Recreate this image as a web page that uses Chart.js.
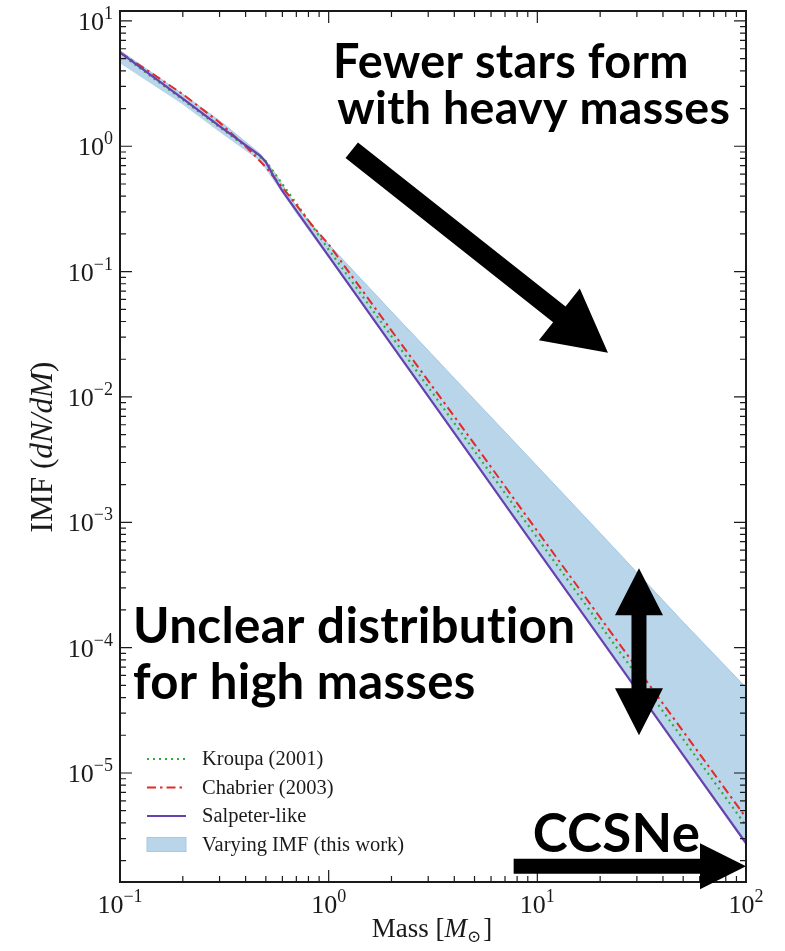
<!DOCTYPE html>
<html>
<head>
<meta charset="utf-8">
<script src="https://cdn.jsdelivr.net/npm/chart.js@4.4.1/dist/chart.umd.min.js"></script>
<style>
  html, body { margin: 0; padding: 0; background: #fff; }
  #wrap { width: 785px; height: 951px; }
</style>
</head>
<body>
<div id="wrap"><canvas id="imf"></canvas></div>
<script>
// IMF curves, mass in solar masses, dN/dM normalised
const kroupaMass = [0.1, 0.2, 0.3, 0.5, 0.7, 1, 2, 5, 10, 20, 50, 100];
const kroupaImf = [5.5, 2.35, 1.42, 0.76, 0.35, 0.15, 0.0305, 0.0037, 7.5e-4, 1.52e-4, 1.86e-5, 3.8e-6];

const chabrierMass = [0.1, 0.15, 0.2, 0.3, 0.4, 0.5, 0.6, 0.7, 0.85, 1, 2, 5, 10, 20, 50, 100];
const chabrierImf = [5.6, 3.6, 2.6, 1.55, 1.0, 0.68, 0.47, 0.34, 0.225, 0.165, 0.0338, 0.0042, 8.5e-4, 1.74e-4, 2.15e-5, 4.4e-6];

const salpeterMass = [0.1, 0.2, 0.3, 0.47, 0.5, 0.55, 0.6, 1, 2, 5, 10, 20, 50, 100];
const salpeterImf = [5.6, 2.4, 1.45, 0.84, 0.75, 0.56, 0.44, 0.133, 0.0262, 3.06e-3, 6.0e-4, 1.19e-4, 1.39e-5, 2.75e-6];

// spread of the varying IMF
const bandMass = [0.1, 0.2, 0.3, 0.47, 0.55, 0.7, 1, 2, 5, 10, 20, 50, 100];
const bandLow = [4.6, 2.15, 1.3, 0.76, 0.52, 0.29, 0.128, 0.0255, 3.0e-3, 5.9e-4, 1.17e-4, 1.37e-5, 2.72e-6];
const bandHigh = [5.8, 2.6, 1.6, 0.87, 0.62, 0.33, 0.165, 0.048, 0.0095, 2.8e-3, 8.2e-4, 1.6e-4, 4.8e-5];

const ticksX = [0.1, 1, 10, 100];
const ticksY = [1e-5, 1e-4, 1e-3, 1e-2, 1e-1, 1, 10];

const legendLabels = ['Kroupa (2001)', 'Chabrier (2003)', 'Salpeter-like', 'Varying IMF (this work)'];

const pts = (xs, ys) => xs.map((x, i) => ({ x: x, y: ys[i] }));

const GREEN = '#35a83a', RED = '#e22a2a', PURPLE = '#6741ad', BAND = '#b9d5ea', BAND_EDGE = '#a4c9e5';
const SERIF = '"Liberation Serif", "DejaVu Serif", serif';
const SANS = 'Lato, "Open Sans", sans-serif';

// annotation text (with its drawn width) and arrows, placed in data units (mass, IMF)
const notes = [
  { text: 'Fewer stars form', x: 1.05, y: 3.5, w: 353 },
  { text: 'with heavy masses', x: 1.10, y: 1.5, w: 390 },
  { text: 'Unclear distribution', x: 0.1155, y: 1.08e-4, w: 439 },
  { text: 'for high masses', x: 0.1155, y: 3.9e-5, w: 340 },
  { text: 'CCSNe', x: 9.5, y: 2.33e-6, w: 167 }
];
const arrows = [
  { from: [1.29, 0.93], to: [21.8, 0.0225], shaft: 20, head: 62, half: 33, both: false },
  { from: [30.7, 2.0e-5], to: [30.7, 4.3e-4], shaft: 15, head: 47, half: 24, both: true },
  { from: [7.7, 1.8e-6], to: [100, 1.8e-6], shaft: 15, head: 46, half: 23, both: false }
];

function supText(ctx, base, exp, x, y, size, align) {
  ctx.font = size + 'px ' + SERIF;
  const wb = ctx.measureText(base).width;
  ctx.font = Math.round(size * 0.68) + 'px ' + SERIF;
  const we = ctx.measureText(exp).width;
  let left = x;
  if (align === 'right') left = x - wb - we;
  if (align === 'center') left = x - (wb + we) / 2;
  ctx.textAlign = 'left';
  ctx.textBaseline = 'alphabetic';
  ctx.font = size + 'px ' + SERIF;
  ctx.fillText(base, left, y);
  ctx.font = Math.round(size * 0.68) + 'px ' + SERIF;
  ctx.fillText(exp, left + wb, y - size * 0.42);
}

function expLabel(v) {
  const e = Math.round(Math.log10(v));
  return e < 0 ? '\u2212' + (-e) : String(e);
}

function drawArrow(ctx, x0, y0, x1, y1, a) {
  const dx = x1 - x0, dy = y1 - y0, len = Math.hypot(dx, dy);
  const ux = dx / len, uy = dy / len, nx = -uy, ny = ux;
  const w = a.shaft / 2, L = a.head, H = a.half;
  let local;
  if (a.both) {
    local = [[0, 0], [L, -H], [L, -w], [len - L, -w], [len - L, -H], [len, 0],
             [len - L, H], [len - L, w], [L, w], [L, H]];
  } else {
    local = [[0, -w], [len - L, -w], [len - L, -H], [len, 0], [len - L, H], [len - L, w], [0, w]];
  }
  ctx.beginPath();
  local.forEach(([s, t], i) => {
    const px = x0 + ux * s + nx * t, py = y0 + uy * s + ny * t;
    if (i === 0) ctx.moveTo(px, py); else ctx.lineTo(px, py);
  });
  ctx.closePath();
  ctx.fill();
}

// draws a row of [text, italic] pieces starting at x
function pieces(ctx, parts, size, x, y) {
  parts.forEach(p => {
    ctx.font = (p[1] ? 'italic ' : '') + size + 'px ' + SERIF;
    ctx.fillText(p[0], x, y);
    x += ctx.measureText(p[0]).width;
  });
}
function piecesWidth(ctx, parts, size) {
  return parts.reduce((w, p) => {
    ctx.font = (p[1] ? 'italic ' : '') + size + 'px ' + SERIF;
    return w + ctx.measureText(p[0]).width;
  }, 0);
}

const decor = {
  id: 'decor',
  afterDraw(chart) {
    const ctx = chart.ctx, area = chart.chartArea;
    const xs = chart.scales.x, ys = chart.scales.y;
    ctx.save();
    ctx.fillStyle = '#1a1a1a';
    ctx.strokeStyle = '#1a1a1a';

    // inward ticks on all four sides
    ctx.lineWidth = 1.2;
    const tick = (px, len, vertical) => {
      ctx.beginPath();
      if (vertical) {
        ctx.moveTo(px, area.bottom); ctx.lineTo(px, area.bottom - len);
        ctx.moveTo(px, area.top); ctx.lineTo(px, area.top + len);
      } else {
        ctx.moveTo(area.left, px); ctx.lineTo(area.left + len, px);
        ctx.moveTo(area.right, px); ctx.lineTo(area.right - len, px);
      }
      ctx.stroke();
    };
    for (let k = -1; k <= 2; k++) {
      for (let m = 1; m <= 9; m++) {
        const v = m * Math.pow(10, k);
        if (v >= xs.min * 0.999 && v <= xs.max * 1.001) tick(xs.getPixelForValue(v), m === 1 ? 12 : 6, true);
      }
    }
    for (let k = -6; k <= 1; k++) {
      for (let m = 1; m <= 9; m++) {
        const v = m * Math.pow(10, k);
        if (v >= ys.min && v <= ys.max) tick(ys.getPixelForValue(v), m === 1 ? 12 : 6, false);
      }
    }

    // frame
    ctx.lineWidth = 2;
    ctx.strokeRect(area.left, area.top, area.right - area.left, area.bottom - area.top);

    // tick labels
    xs.ticks.forEach(t => supText(ctx, '10', expLabel(t.value), xs.getPixelForValue(t.value), area.bottom + 31, 26, 'center'));
    ys.ticks.forEach(t => supText(ctx, '10', expLabel(t.value), area.left - 7, ys.getPixelForValue(t.value) + 9, 26, 'right'));

    // axis titles
    const yTitle = [['IMF (', false], ['dN/dM', true], [')', false]];
    const ysize = 100 * 171 / piecesWidth(ctx, yTitle, 100);
    const yw = piecesWidth(ctx, yTitle, ysize);
    ctx.save();
    ctx.translate(52, 447);
    ctx.rotate(-Math.PI / 2);
    ctx.textAlign = 'left';
    pieces(ctx, yTitle, ysize, -yw / 2, 0);
    ctx.restore();

    const xTitleA = [['Mass [', false], ['M', true]];
    ctx.font = '17px ' + SERIF;
    const wo = ctx.measureText('\u2299').width;
    const wa = piecesWidth(ctx, xTitleA, 27);
    ctx.font = '27px ' + SERIF;
    const wc = ctx.measureText(']').width;
    let tx = 432 - (wa + wo + wc + 2) / 2;
    pieces(ctx, xTitleA, 27, tx, 937);
    tx += wa;
    ctx.font = '17px ' + SERIF;
    ctx.fillText('\u2299', tx, 942);
    tx += wo + 2;
    ctx.font = '27px ' + SERIF;
    ctx.fillText(']', tx, 937);

    // legend
    const lx = area.left + 27, ly0 = area.bottom - 123, gap = 28.5;
    ctx.lineWidth = 2;
    const sample = (i, color, dash) => {
      ctx.strokeStyle = color;
      ctx.setLineDash(dash);
      ctx.beginPath();
      ctx.moveTo(lx, ly0 + i * gap);
      ctx.lineTo(lx + 39, ly0 + i * gap);
      ctx.stroke();
    };
    sample(0, GREEN, [2, 4]);
    sample(1, RED, [9, 4, 2.5, 4]);
    sample(2, PURPLE, []);
    ctx.setLineDash([]);
    ctx.fillStyle = BAND;
    ctx.fillRect(lx, ly0 + 3 * gap - 7, 39, 14);
    ctx.strokeStyle = BAND_EDGE;
    ctx.lineWidth = 1;
    ctx.strokeRect(lx, ly0 + 3 * gap - 7, 39, 14);
    ctx.fillStyle = '#1a1a1a';
    ctx.font = '100px ' + SERIF;
    const lsize = 100 * 202 / ctx.measureText(legendLabels[3]).width;
    ctx.font = lsize.toFixed(1) + 'px ' + SERIF;
    ctx.textAlign = 'left';
    legendLabels.forEach((s, i) => ctx.fillText(s, lx + 55, ly0 + i * gap + 6));

    // annotations; a little letter spacing keeps the font from joining "ti"
    ctx.fillStyle = '#000';
    ctx.letterSpacing = '0.3px';
    notes.forEach(n => {
      ctx.font = 'bold 100px ' + SANS;
      const size = 100 * n.w / ctx.measureText(n.text).width;
      ctx.font = 'bold ' + size.toFixed(1) + 'px ' + SANS;
      ctx.fillText(n.text, xs.getPixelForValue(n.x), ys.getPixelForValue(n.y));
    });
    ctx.letterSpacing = '0px';
    arrows.forEach(a => drawArrow(ctx,
      xs.getPixelForValue(a.from[0]), ys.getPixelForValue(a.from[1]),
      xs.getPixelForValue(a.to[0]), ys.getPixelForValue(a.to[1]), a));
    ctx.restore();
  }
};

new Chart(document.getElementById('imf'), {
  type: 'line',
  data: {
    datasets: [
      { label: 'band low', data: pts(bandMass, bandLow), borderWidth: 0, borderColor: 'rgba(0,0,0,0)', fill: false, order: 5 },
      { label: legendLabels[3], data: pts(bandMass, bandHigh), borderWidth: 1, borderColor: BAND_EDGE, backgroundColor: BAND, fill: '-1', order: 4 },
      { label: legendLabels[0], data: pts(kroupaMass, kroupaImf), borderColor: GREEN, borderWidth: 2.2, borderDash: [2, 4], fill: false, order: 3 },
      { label: legendLabels[1], data: pts(chabrierMass, chabrierImf), borderColor: RED, borderWidth: 2, borderDash: [9, 4, 2.5, 4], fill: false, order: 2 },
      { label: legendLabels[2], data: pts(salpeterMass, salpeterImf), borderColor: PURPLE, borderWidth: 2.2, fill: false, order: 1 }
    ]
  },
  options: {
    responsive: true,
    maintainAspectRatio: false,
    animation: false,
    layout: { padding: { top: 11, right: 39, left: 0, bottom: 0 } },
    elements: { point: { radius: 0 }, line: { tension: 0 } },
    plugins: { legend: { display: false }, tooltip: { enabled: false } },
    scales: {
      x: {
        type: 'logarithmic', min: 0.1, max: 100,
        grid: { display: false }, border: { display: false },
        ticks: { display: false },
        afterBuildTicks: s => { s.ticks = ticksX.map(v => ({ value: v })); },
        afterFit: s => { s.height = 69; }
      },
      y: {
        type: 'logarithmic', min: 1.35e-6, max: 12,
        grid: { display: false }, border: { display: false },
        ticks: { display: false },
        afterBuildTicks: s => { s.ticks = ticksY.map(v => ({ value: v })); },
        afterFit: s => { s.width = 120; }
      }
    }
  },
  plugins: [decor]
});
</script>
</body>
</html>
